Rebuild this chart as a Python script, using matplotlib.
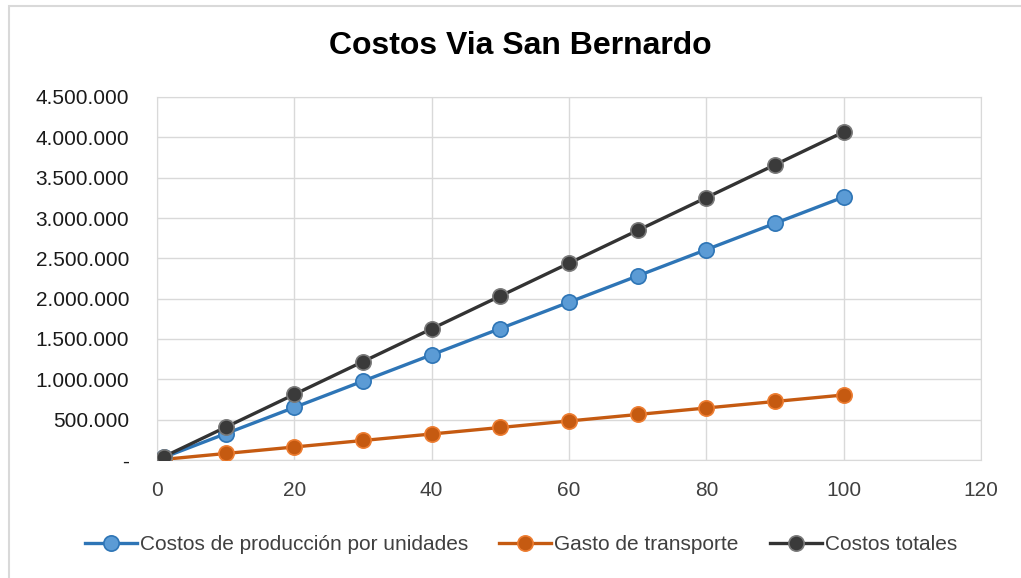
import matplotlib.pyplot as plt
from matplotlib.patches import Rectangle
from matplotlib.ticker import FuncFormatter, MultipleLocator

plt.rcParams['font.family'] = ['Liberation Sans', 'DejaVu Sans']

unidades = [1, 10, 20, 30, 40, 50, 60, 70, 80, 90, 100]
produccion = [32600, 326000, 652000, 978000, 1304000, 1630000,
              1956000, 2282000, 2608000, 2934000, 3260000]
transporte = [8060, 80600, 161200, 241800, 322400, 403000,
              483600, 564200, 644800, 725400, 806000]
totales = [40660, 406600, 813200, 1219800, 1626400, 2033000,
           2439600, 2846200, 3252800, 3659400, 4066000]

titulo = "Costos Via San Bernardo"
etiquetas = ["Costos de producción por unidades", "Gasto de transporte", "Costos totales"]

fig = plt.figure(figsize=(10.21, 5.78), dpi=100)
# chart border
fig.patches.append(Rectangle((9 / 1021, -0.05), 1.2, 1 - 6 / 578 + 0.05,
                             transform=fig.transFigure, fill=False,
                             edgecolor='#d9d9d9', lw=1.5))

ax = fig.add_axes([157 / 1021, 118 / 578, 824 / 1021, 363 / 578])

ax.plot(unidades, produccion, color='#2E75B6', lw=2.4, marker='o', ms=11,
        mfc='#5B9BD5', mec='#2E75B6', mew=1.2, label=etiquetas[0], zorder=3)
ax.plot(unidades, transporte, color='#C55A11', lw=2.4, marker='o', ms=11,
        mfc='#C55A11', mec='#ED7D31', mew=1.2, label=etiquetas[1], zorder=3)
ax.plot(unidades, totales, color='#333333', lw=2.4, marker='o', ms=11,
        mfc='#3a3a3a', mec='#7a7a7a', mew=1.2, label=etiquetas[2], zorder=4)

ax.set_xlim(0, 120)
ax.set_ylim(0, 4500000)
ax.xaxis.set_major_locator(MultipleLocator(20))
ax.yaxis.set_major_locator(MultipleLocator(500000))


def fmt(v, pos):
    if v == 0:
        return '-'
    return f"{int(v):,}".replace(',', '.')


ax.yaxis.set_major_formatter(FuncFormatter(fmt))
ax.grid(True, color='#d9d9d9', lw=1)
ax.set_axisbelow(True)
for s in ax.spines.values():
    s.set_color('#d9d9d9')
ax.tick_params(length=0, labelsize=15, colors='#404040')
ax.tick_params(axis='y', colors='#1a1a1a', pad=20)
ax.tick_params(axis='x', pad=15)

fig.text(520 / 1021, 1 - 46 / 578, titulo, ha='center', va='center',
         fontsize=23, fontweight='bold')

fig.legend(loc='center', bbox_to_anchor=(521 / 1021, 1 - 545 / 578), ncol=3,
           frameon=False, fontsize=15, handlelength=2.5, columnspacing=1.5,
           handletextpad=0.15, labelcolor='#404040')

fig.savefig('out.png', dpi=100)
